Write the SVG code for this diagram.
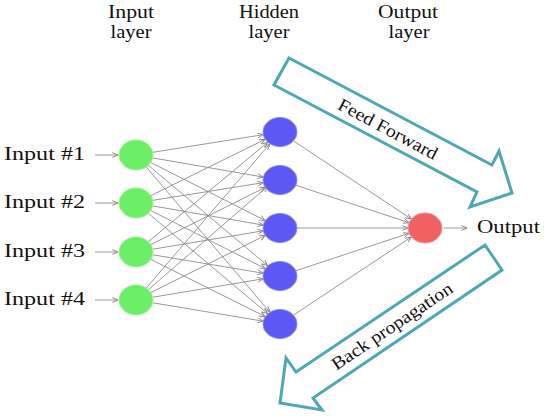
<svg xmlns="http://www.w3.org/2000/svg" width="544" height="416" viewBox="0 0 544 416">
<defs>
<marker id="arr" viewBox="0 0 6 6" refX="6" refY="3" markerWidth="6" markerHeight="6" markerUnits="userSpaceOnUse" orient="auto">
<path d="M0.3,0.6 L6,3 L0.3,5.4" fill="none" stroke="#858585" stroke-width="0.9"/>
</marker>
</defs>
<style>
text{font-family:"Liberation Serif","Times New Roman",serif;fill:#111;}
.lbl{font-size:18px;text-anchor:middle;}
.in{font-size:18px;}
.c line{stroke:#8c8c8c;stroke-width:0.9;marker-end:url(#arr);}
.inN{fill:#6cef66;stroke:#9af595;stroke-width:1;}
.hid{fill:#5a5af3;stroke:#8585f5;stroke-width:1;}
.out{fill:#f06262;stroke:#f59090;stroke-width:1;}
.big{fill:none;stroke:#4ea8b2;stroke-width:3;stroke-linejoin:miter;}
.bt{font-size:18px;text-anchor:middle;}
</style>
<rect width="544" height="416" fill="#ffffff"/>
<g id="header">
<text class="lbl" x="131" y="18" textLength="46" lengthAdjust="spacingAndGlyphs">Input</text>
<text class="lbl" x="131" y="38" textLength="41" lengthAdjust="spacingAndGlyphs">layer</text>
<text class="lbl" x="269" y="18" textLength="60" lengthAdjust="spacingAndGlyphs">Hidden</text>
<text class="lbl" x="269" y="38" textLength="41" lengthAdjust="spacingAndGlyphs">layer</text>
<text class="lbl" x="408" y="18" textLength="60" lengthAdjust="spacingAndGlyphs">Output</text>
<text class="lbl" x="409" y="38" textLength="41" lengthAdjust="spacingAndGlyphs">layer</text>
</g>
<g id="connectors" class="c">
<line x1="95" y1="155" x2="118" y2="155"/>
<line x1="95" y1="203" x2="118" y2="203"/>
<line x1="95" y1="252" x2="118" y2="252"/>
<line x1="95" y1="300" x2="118" y2="300"/>
<line x1="152.73" y1="152.33" x2="263.27" y2="134.67"/>
<line x1="152.68" y1="157.90" x2="263.32" y2="177.10"/>
<line x1="150.74" y1="162.47" x2="265.26" y2="220.53"/>
<line x1="148.31" y1="165.34" x2="267.69" y2="265.66"/>
<line x1="146.21" y1="166.98" x2="269.79" y2="312.02"/>
<line x1="150.84" y1="195.68" x2="265.16" y2="139.32"/>
<line x1="152.73" y1="200.33" x2="263.27" y2="182.67"/>
<line x1="152.68" y1="205.90" x2="263.32" y2="225.10"/>
<line x1="150.74" y1="210.47" x2="265.26" y2="268.53"/>
<line x1="148.31" y1="213.34" x2="267.69" y2="313.66"/>
<line x1="148.36" y1="241.70" x2="267.64" y2="142.30"/>
<line x1="150.79" y1="244.60" x2="265.21" y2="187.40"/>
<line x1="152.70" y1="249.22" x2="263.30" y2="230.78"/>
<line x1="152.70" y1="254.78" x2="263.30" y2="273.22"/>
<line x1="150.79" y1="259.40" x2="265.21" y2="316.60"/>
<line x1="146.26" y1="288.03" x2="269.74" y2="143.97"/>
<line x1="148.36" y1="289.70" x2="267.64" y2="186.30"/>
<line x1="150.79" y1="292.60" x2="265.21" y2="235.40"/>
<line x1="152.70" y1="297.22" x2="263.30" y2="278.78"/>
<line x1="152.70" y1="302.78" x2="263.30" y2="321.22"/>
<line x1="293.6" y1="141.0" x2="411.4" y2="219.0"/>
<line x1="295.92" y1="185.27" x2="409.08" y2="222.73"/>
<line x1="297" y1="228" x2="408" y2="228"/>
<line x1="295.92" y1="270.73" x2="409.08" y2="233.27"/>
<line x1="293.6" y1="315.0" x2="411.4" y2="237.0"/>
<line x1="444" y1="228" x2="467" y2="228"/>
</g>
<g id="input-labels">
<text class="in" x="4" y="160" textLength="81" lengthAdjust="spacingAndGlyphs">Input #1</text>
<text class="in" x="4" y="208" textLength="81" lengthAdjust="spacingAndGlyphs">Input #2</text>
<text class="in" x="4" y="257" textLength="81" lengthAdjust="spacingAndGlyphs">Input #3</text>
<text class="in" x="4" y="305" textLength="81" lengthAdjust="spacingAndGlyphs">Input #4</text>
</g>
<g id="input1"><ellipse class="inN" cx="136" cy="155" rx="17" ry="15"/></g>
<g id="input2"><ellipse class="inN" cx="136" cy="203" rx="17" ry="15"/></g>
<g id="input3"><ellipse class="inN" cx="136" cy="252" rx="17" ry="15"/></g>
<g id="input4"><ellipse class="inN" cx="136" cy="300" rx="17" ry="15"/></g>
<g id="hidden1"><ellipse class="hid" cx="280" cy="132" rx="17" ry="14.5"/></g>
<g id="hidden2"><ellipse class="hid" cx="280" cy="180" rx="17" ry="14.5"/></g>
<g id="hidden3"><ellipse class="hid" cx="280" cy="228" rx="17" ry="14.5"/></g>
<g id="hidden4"><ellipse class="hid" cx="280" cy="276" rx="17" ry="14.5"/></g>
<g id="hidden5"><ellipse class="hid" cx="280" cy="324" rx="17" ry="14.5"/></g>
<g id="output"><ellipse class="out" cx="425" cy="228" rx="17" ry="15"/></g>
<g id="output-label"><text class="in" x="477" y="233" textLength="63" lengthAdjust="spacingAndGlyphs">Output</text></g>
<g id="feed-forward">
<polygon class="big" points="289,58 492,165 499,151 512,193 470,207 477,192 274,85"/>
<text class="bt" transform="translate(388,129) rotate(28)" x="0" y="6" textLength="110" lengthAdjust="spacingAndGlyphs">Feed Forward</text>
</g>
<g id="back-propagation">
<polygon class="big" points="485,245 502,270 313,398 322,410 280,403 286,358 296,372"/>
<text class="bt" transform="translate(392,326) rotate(-34)" x="0" y="6" textLength="142" lengthAdjust="spacingAndGlyphs">Back propagation</text>
</g>
</svg>
